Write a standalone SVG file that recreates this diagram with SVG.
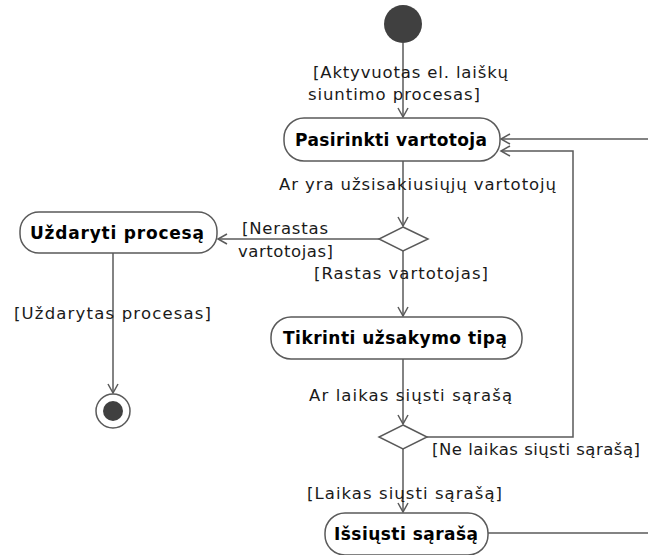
<svg xmlns="http://www.w3.org/2000/svg" width="648" height="555" viewBox="0 0 648 555">
  <style>
    .act { fill: #ffffff; stroke: #5a5a5a; stroke-width: 1.5; }
    .act-label { font-family: "DejaVu Sans", Verdana, sans-serif; font-size: 17px; font-weight: bold; fill: #000000; }
    .guard { font-family: "DejaVu Sans", Verdana, sans-serif; font-size: 16.5px; fill: #1a1a1a; }
    .edge { fill: none; stroke: #5a5a5a; stroke-width: 1.5; }
    .dec { fill: #ffffff; stroke: #5a5a5a; stroke-width: 1.5; }
  </style>
  <defs>
    <marker id="open" markerWidth="12" markerHeight="12" refX="10" refY="6" orient="auto" markerUnits="userSpaceOnUse">
      <path d="M1,1 L10,6 L1,11" fill="none" stroke="#5a5a5a" stroke-width="1.5"/>
    </marker>
  </defs>
  <rect width="648" height="555" fill="#ffffff"/>

  <g id="connectors">
    <line class="edge" x1="403" y1="43" x2="403" y2="117" marker-end="url(#open)"/>
    <line class="edge" x1="403" y1="161" x2="403" y2="226" marker-end="url(#open)"/>
    <line class="edge" x1="379" y1="239" x2="218" y2="239" marker-end="url(#open)"/>
    <line class="edge" x1="403" y1="251" x2="403" y2="316" marker-end="url(#open)"/>
    <line class="edge" x1="113" y1="253" x2="113" y2="393" marker-end="url(#open)"/>
    <line class="edge" x1="403" y1="359" x2="403" y2="424" marker-end="url(#open)"/>
    <polyline class="edge" points="427,437 573,437 573,151 501,151" marker-end="url(#open)"/>
    <line class="edge" x1="403" y1="449" x2="403" y2="512" marker-end="url(#open)"/>
    <line class="edge" x1="648" y1="139" x2="501" y2="139" marker-end="url(#open)"/>
    <line class="edge" x1="488" y1="533" x2="648" y2="533"/>
    <text class="guard" x="313" y="78" textLength="195" lengthAdjust="spacing">[Aktyvuotas el. laiškų</text>
    <text class="guard" x="308" y="100" textLength="172" lengthAdjust="spacing">siuntimo procesas]</text>
    <text class="guard" x="279" y="190" textLength="277" lengthAdjust="spacing">Ar yra užsisakiusiųjų vartotojų</text>
    <text class="guard" x="242" y="234" textLength="86" lengthAdjust="spacing">[Nerastas</text>
    <text class="guard" x="238" y="257" textLength="95" lengthAdjust="spacing">vartotojas]</text>
    <text class="guard" x="314" y="279" textLength="174" lengthAdjust="spacing">[Rastas vartotojas]</text>
    <text class="guard" x="14" y="319" textLength="197" lengthAdjust="spacing">[Uždarytas procesas]</text>
    <text class="guard" x="309" y="401" textLength="203" lengthAdjust="spacing">Ar laikas siųsti sąrašą</text>
    <text class="guard" x="432" y="455" textLength="208" lengthAdjust="spacing">[Ne laikas siųsti sąrašą]</text>
    <text class="guard" x="307" y="499" textLength="195" lengthAdjust="spacing">[Laikas siųsti sąrašą]</text>
  </g>

  <g id="start">
    <circle cx="403" cy="24" r="19" fill="#404040"/>
  </g>

  <g id="pasirinkti">
    <rect class="act" x="284" y="118" width="216" height="43" rx="20"/>
    <text class="act-label" x="295" y="146" textLength="192" lengthAdjust="spacing">Pasirinkti vartotoja</text>
  </g>

  <g id="decision1">
    <polygon class="dec" points="403,227 428,239 403,251 379,239"/>
  </g>

  <g id="uzdaryti">
    <rect class="act" x="20" y="212" width="197" height="41" rx="19"/>
    <text class="act-label" x="30" y="239" textLength="174" lengthAdjust="spacing">Uždaryti procesą</text>
  </g>

  <g id="end">
    <circle cx="113" cy="411" r="17" fill="#ffffff" stroke="#5a5a5a" stroke-width="1.5"/>
    <circle cx="113" cy="411" r="10" fill="#404040"/>
  </g>

  <g id="tikrinti">
    <rect class="act" x="271" y="317" width="251" height="42" rx="20"/>
    <text class="act-label" x="283" y="344" textLength="224" lengthAdjust="spacing">Tikrinti užsakymo tipą</text>
  </g>

  <g id="decision2">
    <polygon class="dec" points="403,425 427,437 403,449 379,437"/>
  </g>

  <g id="issiusti">
    <rect class="act" x="325" y="513" width="163" height="42" rx="20"/>
    <text class="act-label" x="334" y="540" textLength="144" lengthAdjust="spacing">Išsiųsti sąrašą</text>
  </g>
</svg>
